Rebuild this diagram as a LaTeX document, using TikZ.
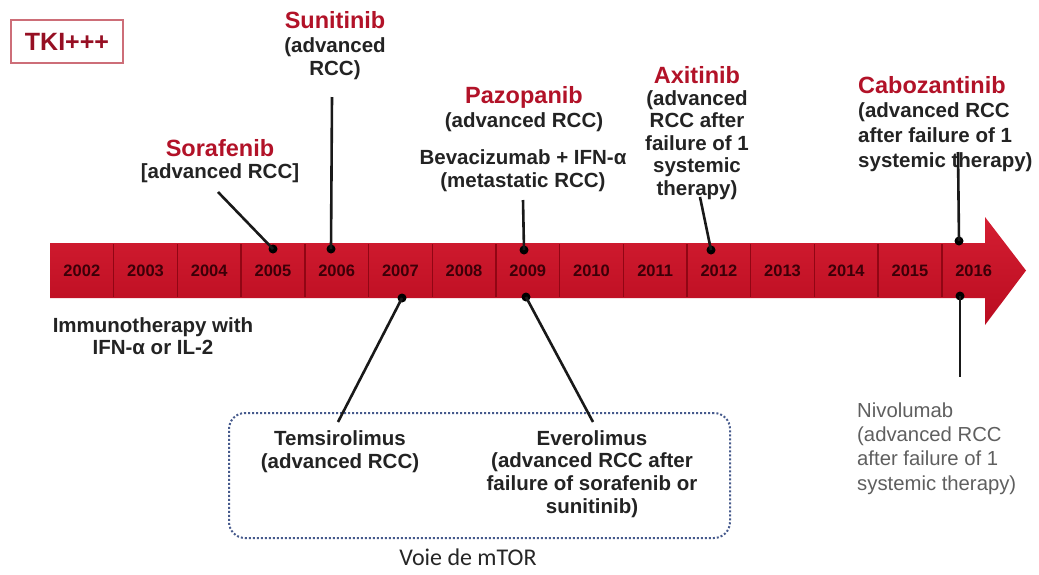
\documentclass[tikz,border=0pt]{standalone}
\usepackage{fontspec}
\setmainfont{Liberation Sans}
\newfontfamily\calib{Carlito}
\definecolor{drugred}{RGB}{178,18,40}
\definecolor{bartop}{RGB}{212,30,50}
\definecolor{barbot}{RGB}{186,12,32}
\definecolor{bardark}{RGB}{145,6,20}
\definecolor{yeartext}{RGB}{60,0,8}
\definecolor{bodytext}{RGB}{35,35,35}
\definecolor{nivogray}{RGB}{95,95,95}
\definecolor{boxblue}{RGB}{70,90,140}
\definecolor{tkiborder}{RGB}{205,110,120}
\definecolor{tkitext}{RGB}{150,15,35}
\begin{document}
\begin{tikzpicture}[x=1pt,y=-1pt,
  drug/.style={font=\bfseries\fontsize{23.5}{26}\selectfont, text=drugred, inner sep=0pt},
  desc/.style={font=\bfseries\fontsize{20.5}{#1}\selectfont, text=bodytext, align=center, inner sep=0pt},
  desc/.default=23,
  nivo/.style={font=\fontsize{20.3}{24.3}\selectfont, text=nivogray, align=left, inner sep=0pt, anchor=west},
  yr/.style={font=\bfseries\fontsize{16.5}{18}\selectfont, text=yeartext, inner sep=0pt},
  tdot/.style={circle, fill=black, inner sep=0pt, minimum size=9pt},
  conn/.style={draw=black!90, line width=2.6pt},
  tkibox/.style={draw=tkiborder, line width=1.2pt, minimum width=112pt, minimum height=43pt,
    font=\bfseries\fontsize{25}{28}\selectfont, text=tkitext, inner sep=0pt},
  mtorbox/.style={draw=boxblue, dotted, line width=2pt, rounded corners=16pt}
]
\useasboundingbox (0,0) rectangle (1039,574);

% TKI box
\node[tkibox] (tki) at (67,41.5) {TKI+++};

% timeline bar
\shade[top color=bartop, bottom color=barbot]
  (50,243) -- (985,243) -- (985,217) -- (1026,270.5) -- (985,325) -- (985,298) -- (50,298) -- cycle;
\foreach \k in {1,...,14}
  \draw[bardark, line width=1.4pt] ({50+63.7*\k},244) -- ({50+63.7*\k},297);
\foreach \yr [count=\k from 0] in {2002,2003,2004,2005,2006,2007,2008,2009,2010,2011,2012,2013,2014,2015,2016}
  \node[yr] (y\yr) at ({50+63.7*(\k+0.5)},271) {\yr};

% labels above
\node[drug] (sunT) at (335,20) {Sunitinib};
\node[desc] (sunD) at (335,58.5) {(advanced\\RCC)};
\node[drug] (sorT) at (220,148) {Sorafenib};
\node[desc] (sorD) at (220,173) {[advanced RCC]};
\node[drug] (pazT) at (524,97) {Pazopanib};
\node[desc] (pazD) at (524,122) {(advanced RCC)};
\node[desc] (bevD) at (523,170.5) {Bevacizumab + IFN-α\\(metastatic RCC)};
\node[drug] (axiT) at (697,75) {Axitinib};
\node[desc=22.5] (axiD) at (697,145) {(advanced\\RCC after\\failure of 1\\systemic\\therapy)};
\node[drug, anchor=west] (cabT) at (858,85) {Cabozantinib};
\node[desc=25, align=left, anchor=west] (cabD) at (858,137) {(advanced RCC\\after failure of 1\\systemic therapy)};

% labels below
\node[desc=22] (immD) at (153,336) {Immunotherapy with\\IFN-α or IL-2};
\node[nivo] (nivD) at (857,448.5) {Nivolumab\\(advanced RCC\\after failure of 1\\systemic therapy)};
\node[mtorbox, minimum width=501pt, minimum height=125pt] (mtor) at (479.5,475.5) {};
\node[desc] (temD) at (340,451.5) {Temsirolimus\\(advanced RCC)};
\node[desc=22.7] (eveD) at (592,474) {Everolimus\\(advanced RCC after\\failure of sorafenib or\\sunitinib)};
\node[font=\calib\fontsize{24}{27}\selectfont, text=black!85, inner sep=0pt] (voie) at (468,557) {Voie de mTOR};

% dots
\node[tdot] (d05) at (273,249) {};
\node[tdot] (d06) at (331,249) {};
\node[tdot] (d09t) at (524,250) {};
\node[tdot] (d12) at (711,250) {};
\node[tdot] (d16t) at (959,241) {};
\node[tdot] (d16b) at (960,296) {};
\node[tdot] (d07) at (402,298) {};
\node[tdot] (d09b) at (526,297) {};

% free ends
\coordinate (cSor) at (218,192);
\coordinate (cSun) at (332,97);
\coordinate (cBev) at (523,200);
\coordinate (cAxi) at (700,197);
\coordinate (cCab) at (958,152);
\coordinate (cNiv) at (960,377);
\coordinate (cTem) at (338,422);
\coordinate (cEve) at (593,422);

% connectors
\draw[conn] (cSor) -- (d05.center);
\draw[conn] (cSun) -- (d06.center);
\draw[conn] (cBev) -- (d09t.center);
\draw[conn] (cAxi) -- (d12.center);
\draw[conn] (cCab) -- (d16t.center);
\draw[conn] (d16b.center) -- (cNiv);
\draw[conn] (d07.center) -- (cTem);
\draw[conn] (d09b.center) -- (cEve);
\end{tikzpicture}
\end{document}
